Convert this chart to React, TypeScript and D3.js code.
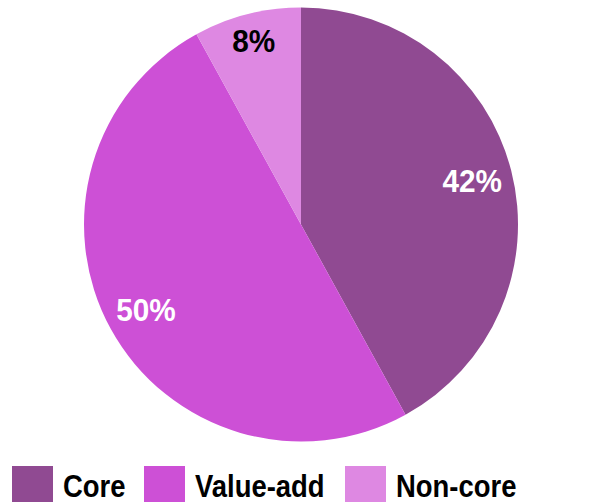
import React from "react";
import * as d3 from "d3";

const categories = ["Core", "Value-add", "Non-core"];
const values = [42, 50, 8];
const colors = ["#904a92", "#cd50d6", "#de88e2"];
const labelColors = ["#ffffff", "#ffffff", "#000000"];

const W = 594;
const H = 503;
const cx = 301;
const cy = 224.5;
const R = 217;

export default function App() {
  const pie = d3.pie<number>().sort(null).value((d) => d)(values);
  const arc = d3.arc<d3.PieArcDatum<number>>().innerRadius(0).outerRadius(R);
  const fs = 32;
  const sx = 0.93;
  const legendX = [12, 144, 345];
  const lfs = 31;
  const lsx = 0.885;
  return (
    <svg
      width={W}
      height={H}
      style={{ position: "absolute", left: 0, top: 0, display: "block" }}
      fontFamily="Liberation Sans, Arial, sans-serif"
    >
      <g transform={`translate(${cx},${cy})`}>
        {pie.map((p, i) => (
          <path key={i} d={arc(p) || ""} fill={colors[i]} />
        ))}
        {pie.map((p, i) => {
          const lr = values[i] < 10 ? R * 0.875 : R * 0.815;
          const a = (p.startAngle + p.endAngle) / 2;
          const x = lr * Math.sin(a);
          const y = -lr * Math.cos(a);
          return (
            <text
              key={"l" + i}
              transform={`translate(${x},${y + fs * 0.36}) scale(${sx},1)`}
              textAnchor="middle"
              fontSize={fs}
              fontWeight="bold"
              fill={labelColors[i]}
            >
              {values[i]}%
            </text>
          );
        })}
      </g>
      {categories.map((c, i) => (
        <g key={"g" + i}>
          <rect x={legendX[i]} y={466} width={41} height={36} fill={colors[i]} />
          <text
            transform={`translate(${legendX[i] + 51},497) scale(${lsx},1)`}
            fontSize={lfs}
            fontWeight="bold"
            fill="#000"
          >
            {c}
          </text>
        </g>
      ))}
    </svg>
  );
}
